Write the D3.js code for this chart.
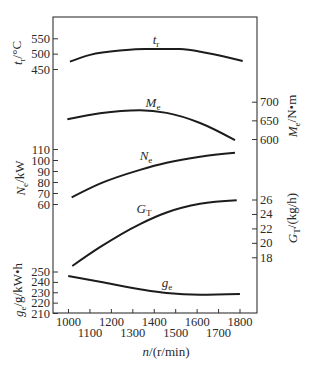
<!DOCTYPE html>
<html>
<head>
<meta charset="utf-8">
<script src="https://cdn.jsdelivr.net/npm/d3@7/dist/d3.min.js"></script>
<style>
  html, body { margin: 0; padding: 0; background: #fff; }
  svg { display: block; }
  text { font-family: "Liberation Serif", "DejaVu Serif", serif; fill: #2a2a2a; }
  .tick text { font-size: 12.5px; }
  .tick line { stroke: #333; stroke-width: 1; }
  .curve { fill: none; stroke: #1c1c1c; stroke-width: 2; }
</style>
</head>
<body>
<svg id="chart" width="328" height="367"></svg>
<script>
// Engine speed characteristic: exhaust temperature, torque, power,
// hourly fuel consumption and specific fuel consumption versus speed.
const rpmTicks = [1000, 1100, 1200, 1300, 1400, 1500, 1600, 1700, 1800];
const trTicks = [450, 500, 550];
const meTicks = [600, 650, 700];
const neTicks = [60, 70, 80, 90, 100, 110];
const gtTicks = [18, 20, 22, 24, 26];
const geTicks = [210, 220, 230, 240, 250];

// t_r, °C
const trRpm = [1009, 1103, 1257, 1359, 1522, 1648, 1815];
const trVal = [474, 496, 511, 515, 515, 502, 476];
// M_e, N·m
const meRpm = [997, 1149, 1336, 1460, 1616, 1779];
const meVal = [653, 669, 677, 670, 643, 597];
// N_e, kW
const neRpm = [1017, 1149, 1336, 1460, 1616, 1779];
const neVal = [66, 78.5, 91, 97.5, 103, 106.5];
// G_T, kg/h
const gtRpm = [1020, 1149, 1336, 1460, 1616, 1787];
const gtVal = [16.8, 19.4, 22.6, 24.2, 25.4, 25.9];
// g_e, g/(kW·h)
const geRpm = [1001, 1149, 1336, 1460, 1616, 1802];
const geVal = [245.7, 240.2, 232.9, 229.2, 227.6, 228.4];

const svg = d3.select("#chart");
const frame = { left: 53, right: 257, top: 17, bottom: 313 };

const x = d3.scaleLinear().domain([1000, 1800]).range([68, 239.5]);
const yTr = d3.scaleLinear().domain([450, 550]).range([69, 38.3]);
const yMe = d3.scaleLinear().domain([600, 700]).range([139, 101.7]);
const yNe = d3.scaleLinear().domain([60, 110]).range([204, 149]);
const yGt = d3.scaleLinear().domain([18, 26]).range([257.3, 199.5]);
const yGe = d3.scaleLinear().domain([210, 250]).range([313, 271.5]);

// frame
svg.append("rect")
  .attr("x", frame.left).attr("y", frame.top)
  .attr("width", frame.right - frame.left).attr("height", frame.bottom - frame.top)
  .attr("fill", "none").attr("stroke", "#333").attr("stroke-width", 1.1);

function leftAxis(scale, ticks) {
  const g = svg.append("g").attr("transform", `translate(${frame.left},0)`)
    .call(d3.axisLeft(scale).tickValues(ticks).tickSizeInner(-5).tickSizeOuter(0).tickPadding(3));
  g.select(".domain").remove();
  return g;
}
function rightAxis(scale, ticks) {
  const g = svg.append("g").attr("transform", `translate(${frame.right},0)`)
    .call(d3.axisRight(scale).tickValues(ticks).tickSizeInner(-5).tickSizeOuter(0).tickPadding(3));
  g.select(".domain").remove();
  return g;
}
leftAxis(yTr, trTicks);
leftAxis(yNe, neTicks);
leftAxis(yGe, geTicks);
rightAxis(yMe, meTicks);
rightAxis(yGt, gtTicks);

// bottom axis with staggered labels
const xAxis = svg.append("g").attr("transform", `translate(0,${frame.bottom})`)
  .call(d3.axisBottom(x).tickValues(rpmTicks).tickSizeInner(-4).tickSizeOuter(0).tickPadding(4)
    .tickFormat(d3.format("d")));
xAxis.select(".domain").remove();
xAxis.selectAll(".tick text")
  .attr("dy", (d, i) => i % 2 === 0 ? "0.71em" : "1.6em");

// curves
const line = d3.line().curve(d3.curveMonotoneX);
function drawCurve(rpm, val, yScale) {
  svg.append("path").attr("class", "curve")
    .attr("d", line(rpm.map((n, i) => [x(n), yScale(val[i])])));
}
drawCurve(trRpm, trVal, yTr);
drawCurve(meRpm, meVal, yMe);
drawCurve(neRpm, neVal, yNe);
drawCurve(gtRpm, gtVal, yGt);
drawCurve(geRpm, geVal, yGe);

// label with italic symbol and upright subscript
function symbol(sel, main, sub, rest) {
  sel.append("tspan").attr("font-style", "italic").text(main);
  sel.append("tspan").attr("font-size", "0.7em").attr("dy", "0.3em").text(sub);
  if (rest) sel.append("tspan").attr("dy", "-0.3em").text(rest);
  return sel;
}
function curveLabel(px, py, main, sub) {
  const t = svg.append("text").attr("x", px).attr("y", py).attr("font-size", 13)
    .attr("text-anchor", "middle");
  symbol(t, main, sub);
}
curveLabel(156, 44, "t", "r");
curveLabel(153, 107, "M", "e");
curveLabel(146, 160, "N", "e");
curveLabel(144, 213, "G", "T");
curveLabel(167, 287, "g", "e");

// rotated axis titles
function axisTitle(cx, cy, main, sub, rest) {
  const t = svg.append("text").attr("font-size", 13).attr("text-anchor", "middle")
    .attr("transform", `translate(${cx},${cy}) rotate(-90)`);
  symbol(t, main, sub, rest);
}
axisTitle(22, 53, "t", "r", "/°C");
axisTitle(25, 178, "N", "e", "/kW");
axisTitle(23, 290, "g", "e", "/g/kW•h");
axisTitle(297, 116, "M", "e", "/N•m");
axisTitle(297, 218, "G", "T", "/(kg/h)");

// x title
const xt = svg.append("text").attr("x", 166).attr("y", 356).attr("font-size", 13)
  .attr("text-anchor", "middle");
xt.append("tspan").attr("font-style", "italic").text("n");
xt.append("tspan").text("/(r/min)");
</script>
</body>
</html>
